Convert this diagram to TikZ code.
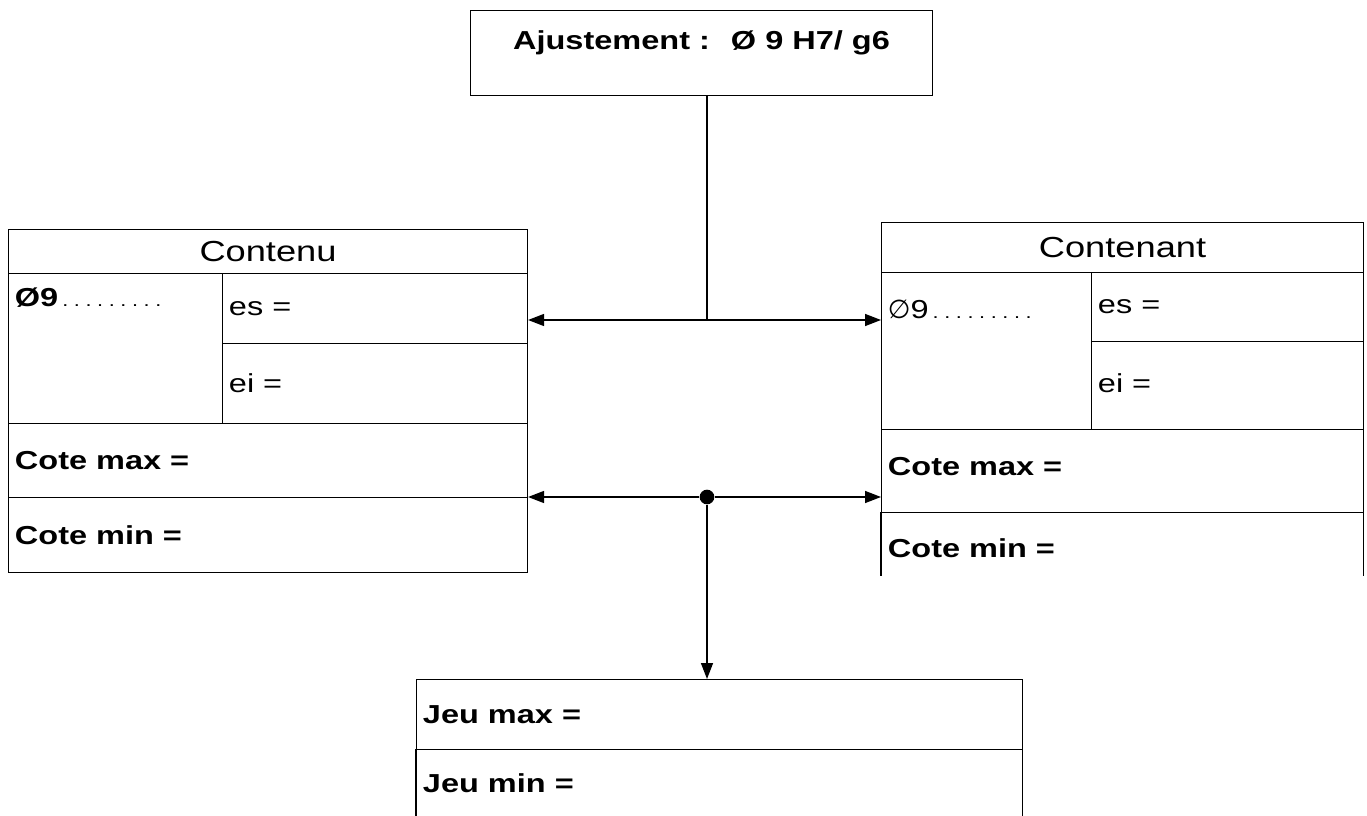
\documentclass[tikz,border=0pt]{standalone}
\usepackage{fontspec}
\setmainfont{Liberation Sans}[FakeStretch=1.25]
\newfontfamily\symfont{DejaVu Sans}
\usetikzlibrary{positioning,arrows.meta}

\newcommand{\dotrow}{{\fontsize{13pt}{13pt}\selectfont\hspace{3pt}\foreach \k in {1,...,9}{.\hspace{4.2pt}}}}

\tikzset{
    cell/.style={draw, line width=0.8pt, anchor=north west, inner sep=0pt},
    opencell/.style={anchor=north west, inner sep=0pt},
    txt/.style={inner sep=5pt, font=\fontsize{19.5pt}{22pt}\selectfont},
    head/.style={font=\fontsize{21.75pt}{24pt}\selectfont},
    line/.style={line width=1.1pt},
    arr/.style={line, -{Triangle[length=12pt,width=9pt]}},
    dot/.style={circle, fill, inner sep=0pt, minimum size=11pt}
}

\begin{document}
\begin{tikzpicture}[x=0.75pt,y=-0.75pt]
        \useasboundingbox (0,0) rectangle (1367,816);

        \node[cell, txt, inner sep=0pt, minimum width=346.5pt, minimum height=63.75pt, text height=29.25pt, text depth=34.5pt] (ajust) at (470,10) {\bfseries Ajustement :~ Ø 9 H7/ g6};

        % contenu
        \node[cell, head, minimum width=389.25pt, minimum height=33pt] (contenu) at (8,229) {Contenu};
        \node[cell, minimum width=160.5pt, minimum height=112.5pt] (diamL) at (8,273) {};
        \node[cell, minimum width=228.75pt, minimum height=52.5pt] (esL) at (222,273) {};
        \node[cell, minimum width=228.75pt, minimum height=60pt] (eiL) at (222,343) {};
        \node[cell, minimum width=389.25pt, minimum height=55.5pt] (cmaxL) at (8,423) {};
        \node[cell, minimum width=389.25pt, minimum height=56.25pt] (cminL) at (8,497) {};

        \node[txt, below right=6pt and 0pt of diamL.north west] (tdiamL) {\bfseries Ø9\mdseries\dotrow};
        \node[txt, right=0pt of esL.west] (tesL) {es =};
        \node[txt, right=0pt of eiL.west] (teiL) {ei =};
        \node[txt, right=0pt of cmaxL.west] (tcmaxL) {\bfseries Cote max =};
        \node[txt, right=0pt of cminL.west] (tcminL) {\bfseries Cote min =};

        % contenant
        \node[cell, head, minimum width=361.5pt, minimum height=37.5pt] (contenant) at (881,222) {Contenant};
        \node[cell, minimum width=157.5pt, minimum height=117.75pt] (diamR) at (881,272) {};
        \node[cell, minimum width=204pt, minimum height=51.75pt] (esR) at (1091,272) {};
        \node[cell, minimum width=204pt, minimum height=66pt] (eiR) at (1091,341) {};
        \node[cell, minimum width=361.5pt, minimum height=62.25pt] (cmaxR) at (881,429) {};
        \node[opencell, minimum width=361.5pt, minimum height=47.25pt] (cminR) at (881,512) {};
        \draw[line width=0.8pt] (cminR.north west) -- (cminR.south west) (cminR.north east) -- (cminR.south east);

        \node[txt, below right=16pt and 0pt of diamR.north west] (tdiamR) {{\symfont ∅}9\dotrow};
        \node[txt, right=0pt of esR.west] (tesR) {es =};
        \node[txt, right=0pt of eiR.west, yshift=2pt] (teiR) {ei =};
        \node[txt, right=0pt of cmaxR.west, yshift=3pt] (tcmaxR) {\bfseries Cote max =};
        \node[txt, right=0pt of cminR.west, yshift=-3pt] (tcminR) {\bfseries Cote min =};

        % jeu
        \node[cell, minimum width=454.5pt, minimum height=52.5pt] (jmax) at (416,679) {};
        \node[opencell, minimum width=454.5pt, minimum height=50.25pt] (jmin) at (416,749) {};
        \draw[line width=0.8pt] (jmin.north west) -- (jmin.south west) (jmin.north east) -- (jmin.south east);
        \node[txt, right=0pt of jmax.west] (tjmax) {\bfseries Jeu max =};
        \node[txt, right=0pt of jmin.west] (tjmin) {\bfseries Jeu min =};

        % liens
        \coordinate (fork1) at (707,320);
        \node[dot] (fork2) at (707,497) {};
        \draw[line] (ajust.south -| fork1) -- (fork1);
        \draw[arr] (fork1) -- (fork1 -| esL.east);
        \draw[arr] (fork1) -- (fork1 -| diamR.west);
        \draw[arr] (fork2) -- (fork2 -| cminL.east);
        \draw[arr] (fork2) -- (fork2 -| cmaxR.west);
        \draw[arr] (fork2) -- (fork2 |- jmax.north);
\end{tikzpicture}
\end{document}
